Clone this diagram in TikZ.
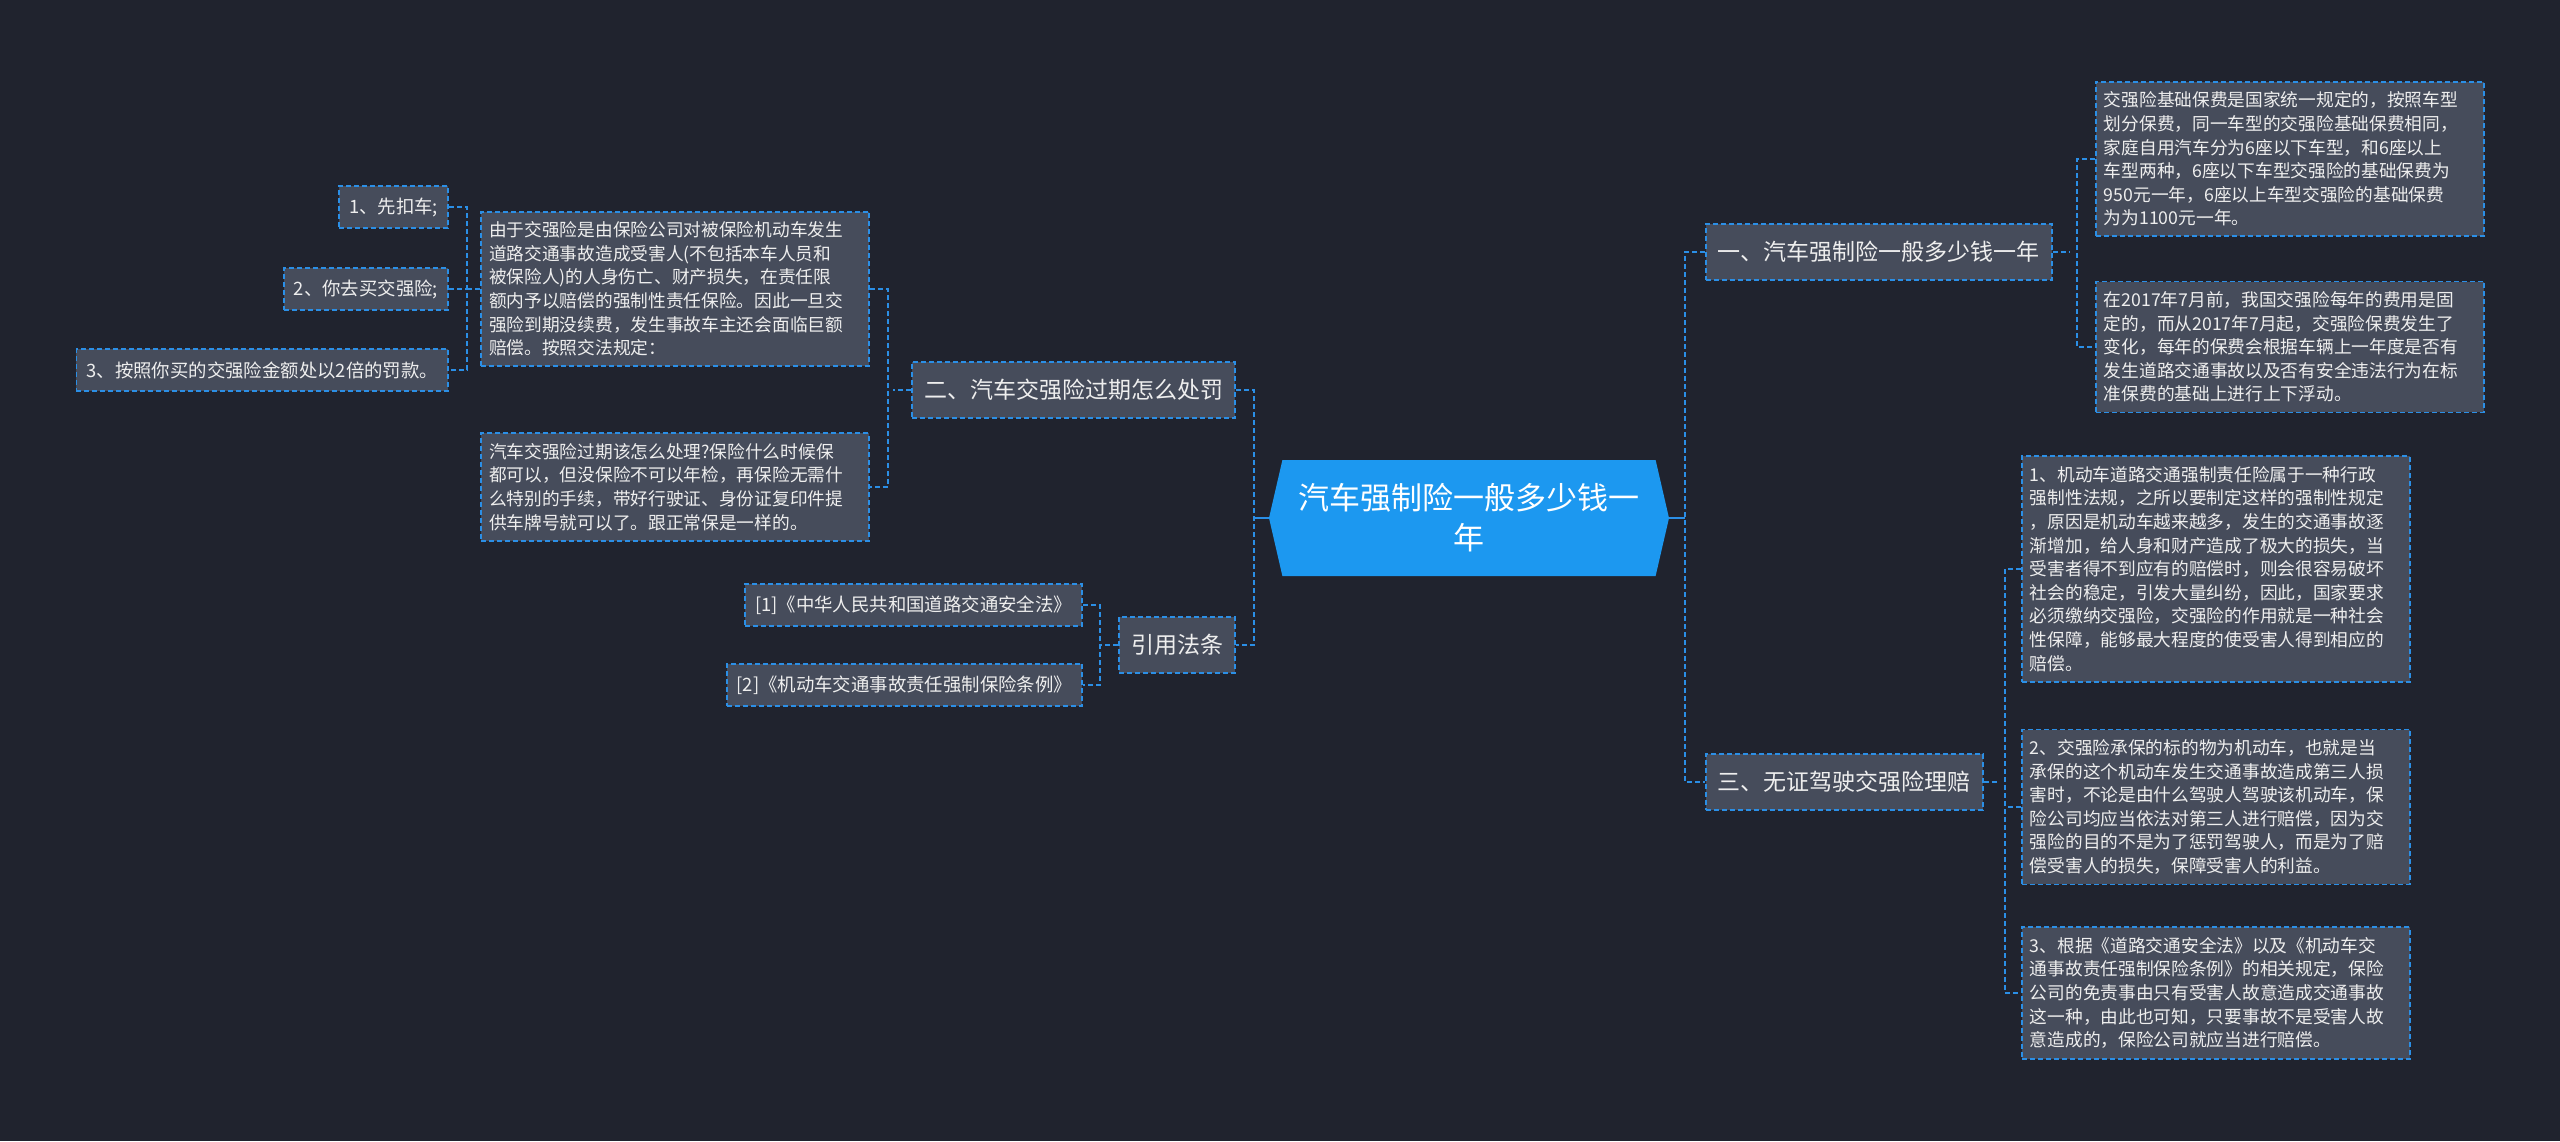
\documentclass[tikz,border=0pt]{standalone}
\usepackage{fontspec}
\newfontfamily\cjk{Noto Sans CJK SC}
\usetikzlibrary{shapes.symbols}
\definecolor{bgdark}{HTML}{20232E}
\definecolor{boxgrey}{HTML}{464C5B}
\definecolor{linkblue}{HTML}{2B8FE6}
\definecolor{rootblue}{HTML}{1C98F0}
\definecolor{txtlight}{HTML}{EEEEEE}
\tikzset{
  rootnode/.style={signal,signal to=west and east,signal pointer angle=154,fill=rootblue,
    text=white,align=center,font=\cjk\fontsize{15.5}{20}\selectfont,
    minimum width=200pt,minimum height=58pt,inner sep=0pt},
  boxed/.style={draw=linkblue,line width=0.9pt,dash pattern=on 2.5pt off 1.5pt,
    fill=boxgrey,text=txtlight},
  branch/.style={boxed,font=\cjk\fontsize{11.5}{14}\selectfont,inner xsep=6pt,minimum height=28pt},
  leaf/.style={boxed,font=\cjk\fontsize{8.85}{11.8}\selectfont,align=left,text width=186pt,
    inner xsep=4pt,inner ysep=5pt},
  subleaf/.style={boxed,font=\cjk\fontsize{9.2}{11.8}\selectfont,inner xsep=5pt,minimum height=21pt},
  link/.style={draw=linkblue,line width=0.9pt,dash pattern=on 2.5pt off 1.5pt},
  stub/.style={draw=linkblue,line width=1pt}
}
\begin{document}
\begin{tikzpicture}[x=0.5pt,y=-0.5pt]
\fill[bgdark] (0,0) rectangle (2560,1141);
\useasboundingbox (0,0) rectangle (2560,1141);

\node[rootnode] (root) at (1469,518) {汽车强制险一般多少钱一\\年};

% right side
\node[branch,anchor=west] (b1) at (1705,252) {一、汽车强制险一般多少钱一年};
\node[leaf,anchor=west] (b1a) at (2095,159) {交强险基础保费是国家统一规定的，按照车型\\划分保费，同一车型的交强险基础保费相同，\\家庭自用汽车分为6座以下车型，和6座以上\\车型两种，6座以下车型交强险的基础保费为\\950元一年，6座以上车型交强险的基础保费\\为为1100元一年。};
\node[leaf,anchor=west] (b1b) at (2095,347) {在2017年7月前，我国交强险每年的费用是固\\定的，而从2017年7月起，交强险保费发生了\\变化，每年的保费会根据车辆上一年度是否有\\发生道路交通事故以及否有安全违法行为在标\\准保费的基础上进行上下浮动。};

\node[branch,anchor=west] (b3) at (1705,782) {三、无证驾驶交强险理赔};
\node[leaf,anchor=west] (b3a) at (2021,569) {1、机动车道路交通强制责任险属于一种行政\\强制性法规，之所以要制定这样的强制性规定\\，原因是机动车越来越多，发生的交通事故逐\\渐增加，给人身和财产造成了极大的损失，当\\受害者得不到应有的赔偿时，则会很容易破坏\\社会的稳定，引发大量纠纷，因此，国家要求\\必须缴纳交强险，交强险的作用就是一种社会\\性保障，能够最大程度的使受害人得到相应的\\赔偿。};
\node[leaf,anchor=west] (b3b) at (2021,807) {2、交强险承保的标的物为机动车，也就是当\\承保的这个机动车发生交通事故造成第三人损\\害时，不论是由什么驾驶人驾驶该机动车，保\\险公司均应当依法对第三人进行赔偿，因为交\\强险的目的不是为了惩罚驾驶人，而是为了赔\\偿受害人的损失，保障受害人的利益。};
\node[leaf,anchor=west] (b3c) at (2021,993) {3、根据《道路交通安全法》以及《机动车交\\通事故责任强制保险条例》的相关规定，保险\\公司的免责事由只有受害人故意造成交通事故\\这一种，由此也可知，只要事故不是受害人故\\意造成的，保险公司就应当进行赔偿。};

% left side
\node[branch,anchor=east] (b2) at (1236,390) {二、汽车交强险过期怎么处罚};
\node[leaf,anchor=east] (b2a) at (870,289) {由于交强险是由保险公司对被保险机动车发生\\道路交通事故造成受害人(不包括本车人员和\\被保险人)的人身伤亡、财产损失，在责任限\\额内予以赔偿的强制性责任保险。因此一旦交\\强险到期没续费，发生事故车主还会面临巨额\\赔偿。按照交法规定：};
\node[leaf,anchor=east] (b2b) at (870,487) {汽车交强险过期该怎么处理?保险什么时候保\\都可以，但没保险不可以年检，再保险无需什\\么特别的手续，带好行驶证、身份证复印件提\\供车牌号就可以了。跟正常保是一样的。};
\node[subleaf,anchor=east] (s1) at (449,207) {1、先扣车;};
\node[subleaf,anchor=east] (s2) at (449,289) {2、你去买交强险;};
\node[subleaf,anchor=east] (s3) at (449,370) {3、按照你买的交强险金额处以2倍的罚款。};

\node[branch,anchor=east] (b4) at (1236,645) {引用法条};
\node[subleaf,anchor=east] (r1) at (1083,605) {[1]《中华人民共和国道路交通安全法》};
\node[subleaf,anchor=east] (r2) at (1083,685) {[2]《机动车交通事故责任强制保险条例》};

% connectors
\draw[stub] (root.east) -- ++(16,0);
\draw[link] (b1.west) -- ++(-20,0) |- (b3.west);
\draw[stub] (root.west) -- ++(-16,0);
\draw[link] (b2.east) -- ++(18,0) |- (b4.east);

\draw[link] (b1.east) -- ++(17,0);
\draw[link] (b1a.west) -- ++(-18,0) |- (b1b.west);
\draw[link] (b3.east) -- ++(16,0);
\draw[link] (b3a.west) -- ++(-16,0) |- (b3c.west);
\draw[link] (b3b.west) -- ++(-16,0);

\draw[link] (b2.west) -- ++(-18,0);
\draw[link] (b2a.east) -- ++(18,0) |- (b2b.east);
\draw[link] (b2a.west) -- ++(-16,0);
\draw[link] (s1.east) -- ++(18,0) |- (s3.east);
\draw[link] (s2.east) -- ++(18,0);

\draw[link] (b4.west) -- ++(-17,0);
\draw[link] (r1.east) -- ++(17,0) |- (r2.east);
\end{tikzpicture}
\end{document}
